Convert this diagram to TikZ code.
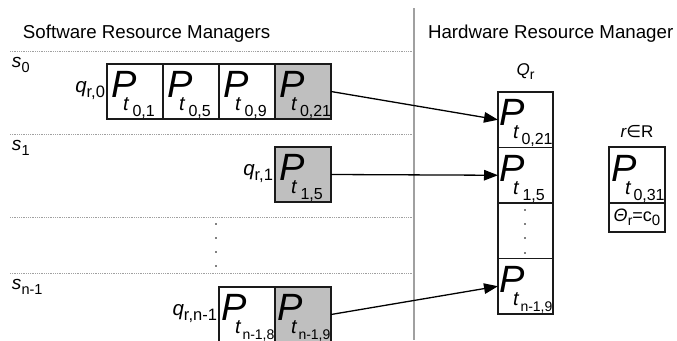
\documentclass[tikz,border=0pt]{standalone}
\usepackage{fontspec}
\setmainfont{Liberation Sans}
\newfontfamily\symfont{DejaVu Sans}
\usetikzlibrary{arrows.meta}

\definecolor{boxc}{HTML}{1A1A1A}
\definecolor{cellgray}{HTML}{BFBFBF}
\definecolor{rulegray}{HTML}{A0A0A0}

\newcommand\fs[1]{\fontsize{#1}{#1}\selectfont}
% P with a subscripted t inside a cell of width #1:
% #2 index text, #3 offset of P, #4 offset of t, #5 offset of the index, #6 index size
\newcommand\Pcell[6][56]{\makebox[#1pt][l]{\rule{0pt}{55pt}%
  \rlap{\kern#3pt\raisebox{21.5pt}{\fs{38}\itshape P}}%
  \rlap{\kern#4pt\raisebox{8.5pt}{\fs{20}\itshape t}}%
  \rlap{\kern#5pt\raisebox{2.5pt}{\fs{#6}#2}}}}
\newcommand\Pstd[1]{\Pcell{#1}{4.5}{16}{25.5}{16}}

\begin{document}
\begin{tikzpicture}[x=1pt,y=-1pt,
  cell/.style={draw=boxc, line width=1.3pt, inner sep=0pt, outer sep=0pt,
    minimum width=56pt, minimum height=55pt, anchor=north west},
  shaded/.style={cell, fill=cellgray},
  qcell/.style={cell, minimum width=55pt, minimum height=55.5pt},
  sep/.style={draw=rulegray, line width=0.7pt, dash pattern=on 0.9pt off 0.9pt},
  divider/.style={draw=rulegray, line width=1.2pt},
  feed/.style={draw=black, line width=1.3pt, -{Triangle[length=14pt,width=10.5pt]}},
  lbl/.style={inner sep=0pt, outer sep=0pt}]
\useasboundingbox (0,0) rectangle (677,340);

% section headers and separators
\node[lbl, anchor=base west] (swhead) at (23,38) {\fs{18.7}Software Resource Managers};
\node[lbl, anchor=base west] (hwhead) at (428,38) {\fs{18.7}Hardware Resource Manager};
\draw[divider] (414,8) -- (414,340);
\foreach \yy in {51,134,217,273} \draw[sep] (10,\yy) -- (413,\yy);

% software side labels
\node[lbl, anchor=base west] (s0) at (12,67) {\fs{19}\itshape s\raisebox{-5pt}{\fs{14.5}\upshape 0}};
\node[lbl, anchor=base west] (s1) at (12,150) {\fs{19}\itshape s\raisebox{-5pt}{\fs{14.5}\upshape 1}};
\node[lbl, anchor=base west] (sn) at (12,289) {\fs{19}\itshape s\raisebox{-5pt}{\fs{14.5}\upshape n-1}};

% software queues
\node[cell]   (a01)  at (107,64) {\Pstd{0,1}};
\node[cell]   (a05)  at (163,64) {\Pstd{0,5}};
\node[cell]   (a09)  at (219,64) {\Pstd{0,9}};
\node[shaded] (a021) at (275,64) {\Pcell{0,21}{4.5}{16}{25}{16}};
\node[shaded] (a15)  at (275,147) {\Pstd{1,5}};
\node[cell]   (an18) at (219,287) {\Pcell{n-1,8}{2}{16}{23.5}{14}};
\node[shaded] (an19) at (275,287) {\Pcell{n-1,9}{2.5}{16}{23.5}{14}};

\node[lbl, anchor=base east] (q0) at ([xshift=-2pt,yshift=-0.5pt]a01.west)
  {\fs{20.5}\itshape q\raisebox{-5pt}{\fs{16.5}\upshape r,0}};
\node[lbl, anchor=base east] (q1l) at ([xshift=-2pt,yshift=-0.5pt]a15.west)
  {\fs{20.5}\itshape q\raisebox{-5pt}{\fs{16.5}\upshape r,1}};
\node[lbl, anchor=base east] (qnl) at ([xshift=-2pt,yshift=-0.5pt]an18.west)
  {\fs{20.5}\itshape q\raisebox{-5pt}{\fs{16.5}\upshape r,n-1}};

\foreach \yy in {224,238,252,266} \fill (216,\yy) circle (0.9pt);

% hardware queue
\node[qcell] (q1) at (498,92)    {\Pcell[55]{0,21}{1.5}{15}{23.5}{16}};
\node[qcell] (q2) at (498,147.5) {\Pcell[55]{1,5}{1.5}{15}{24.5}{16}};
\node[qcell] (q3) at (498,203)   {};
\node[qcell] (q4) at (498,258.5) {\Pcell[55]{n-1,9}{1.5}{15}{22.5}{14}};
\foreach \yy in {210,224,238,253} \fill (525,\yy) circle (0.9pt);
\node[lbl, anchor=base] (qlab) at ([yshift=17pt]q1.north)
  {\fs{17}\itshape Q\raisebox{-4pt}{\fs{14}\upshape r}};

% resource in use
\node[cell, minimum height=56pt] (rb) at (609,147) {\Pcell{0,31}{2}{16}{24.5}{16}};
\node[cell, minimum height=29pt] (rbc) at (609,203)
  {\fs{18}\itshape Θ\raisebox{-4pt}{\fs{14}\upshape r}\upshape =c\raisebox{-4pt}{\fs{15}0}};
\node[lbl, anchor=base] (rset) at ([yshift=10pt]rb.north)
  {\fs{17}\itshape r{\upshape\symfont ∈}\upshape R};

% dispatch arrows
\draw[feed] (a021.east) -- (q1.west);
\draw[feed] (a15.east) -- (q2.west);
\draw[feed] (an19.east) -- (q4.west);
\end{tikzpicture}
\end{document}
